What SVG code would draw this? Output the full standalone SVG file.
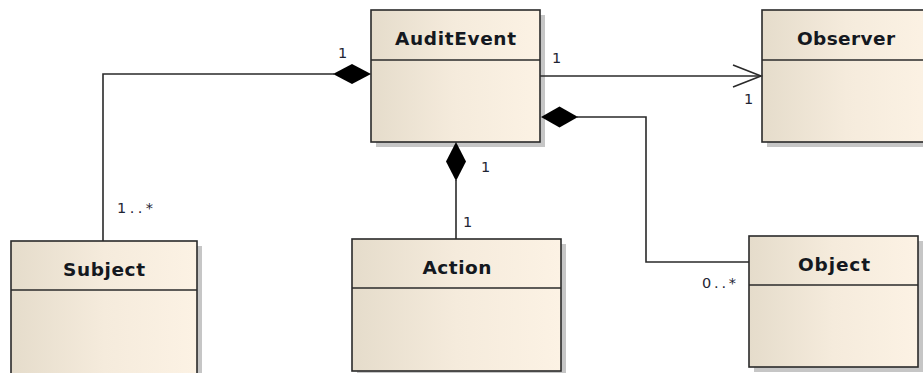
<svg xmlns="http://www.w3.org/2000/svg" width="923" height="373" viewBox="0 0 923 373">
  <style>
    .shadow { fill: #c6c6c6; }
    .box { fill: url(#classFill); stroke: #2a2a2a; stroke-width: 1.6; }
    .sep { stroke: #2a2a2a; stroke-width: 1.6; }
    .name { font-family: "DejaVu Sans", Verdana, sans-serif; font-weight: bold; font-size: 18.5px; fill: #141820; text-anchor: middle; }
    .edge { fill: none; stroke: #2a2a2a; stroke-width: 1.6; }
    .diamond { fill: #000; stroke: none; }
    .mult { font-family: "DejaVu Sans", Verdana, sans-serif; font-size: 14.5px; fill: #1e2433; }
  </style>
  <defs>
    <linearGradient id="classFill" x1="0" y1="0" x2="1" y2="0">
      <stop offset="0" stop-color="#e5dccb"/>
      <stop offset="0.5" stop-color="#f5ebdc"/>
      <stop offset="1" stop-color="#fcf2e4"/>
    </linearGradient>
  </defs>

  <rect width="923" height="373" fill="#ffffff"/>

  <!-- classes -->
  <g id="AuditEvent">
    <rect class="shadow" x="376" y="15" width="169" height="132"/>
    <rect class="box" x="371" y="10" width="169" height="132"/>
    <line class="sep" x1="371" y1="60" x2="540" y2="60"/>
    <text class="name" x="455.5" y="45" textLength="121">AuditEvent</text>
  </g>

  <g id="Observer">
    <rect class="shadow" x="767" y="15" width="169" height="132"/>
    <rect class="box" x="762" y="10" width="169" height="132"/>
    <line class="sep" x1="762" y1="60" x2="931" y2="60"/>
    <text class="name" x="846" y="45" textLength="98">Observer</text>
  </g>

  <g id="Subject">
    <rect class="shadow" x="16" y="246" width="186" height="140"/>
    <rect class="box" x="11" y="241" width="186" height="140"/>
    <line class="sep" x1="11" y1="290" x2="197" y2="290"/>
    <text class="name" x="104" y="276" textLength="82">Subject</text>
  </g>

  <g id="Action">
    <rect class="shadow" x="357" y="244" width="209" height="132"/>
    <rect class="box" x="352" y="239" width="209" height="132"/>
    <line class="sep" x1="352" y1="288" x2="561" y2="288"/>
    <text class="name" x="457" y="274" textLength="69">Action</text>
  </g>

  <g id="Object">
    <rect class="shadow" x="754" y="241" width="169" height="131"/>
    <rect class="box" x="749" y="236" width="169" height="131"/>
    <line class="sep" x1="749" y1="285" x2="918" y2="285"/>
    <text class="name" x="834" y="271" textLength="72">Object</text>
  </g>

  <!-- associations -->
  <g id="connectors">
    <!-- AuditEvent composed of Subject -->
    <polyline class="edge" points="103,241 103,74 334,74"/>
    <polygon class="diamond" points="371,74 352,64 333,74 352,84"/>
    <text class="mult" x="338" y="58">1</text>
    <text class="mult" x="117" y="213" textLength="36">1..*</text>

    <!-- AuditEvent composed of Action -->
    <line class="edge" x1="456" y1="180" x2="456" y2="239"/>
    <polygon class="diamond" points="456,142 466,161.5 456,181 446,161.5"/>
    <text class="mult" x="481" y="172">1</text>
    <text class="mult" x="463" y="227">1</text>

    <!-- AuditEvent composed of Object -->
    <polyline class="edge" points="577,117 646,117 646,262 749,262"/>
    <polygon class="diamond" points="541,117 559.5,106.5 578,117 559.5,127.5"/>
    <text class="mult" x="702" y="288" textLength="34">0..*</text>

    <!-- AuditEvent navigates to Observer -->
    <line class="edge" x1="540" y1="76" x2="761" y2="76"/>
    <polyline class="edge" points="733,65 761,76 733,87"/>
    <text class="mult" x="552" y="63">1</text>
    <text class="mult" x="744" y="104">1</text>
  </g>
</svg>
